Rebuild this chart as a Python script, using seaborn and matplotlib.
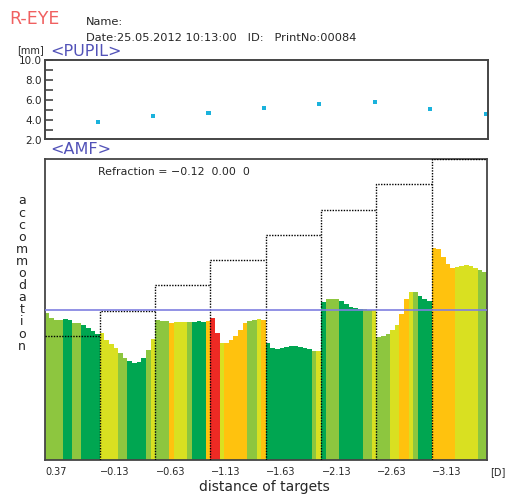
import matplotlib
matplotlib.use("Agg")
import matplotlib.pyplot as plt
import numpy as np
import pandas as pd
import seaborn as sns

# ---------------- data ----------------
target_labels = ["0.37", "\u22120.13", "\u22120.63", "\u22121.13",
                 "\u22121.63", "\u22122.13", "\u22122.63", "\u22123.13"]
pupil_mm = [3.74, 4.35, 4.68, 5.22, 5.56, 5.80, 5.06, 4.55]
stimulus_levels = [2.47, 2.98, 3.49, 4.00, 4.50, 5.00, 5.51, 6.02]
reference_level = 3.0

acc_seg1 = [2.94, 2.84, 2.80, 2.80, 2.82, 2.80, 2.74, 2.74, 2.70, 2.64, 2.58, 2.52]
acc_seg2 = [2.54, 2.40, 2.32, 2.24, 2.14, 2.04, 1.98, 1.94, 1.96, 2.04, 2.20, 2.42]
acc_seg3 = [2.80, 2.78, 2.78, 2.74, 2.76, 2.76, 2.76, 2.76, 2.77, 2.78, 2.77, 2.78]
acc_seg4 = [2.84, 2.54, 2.34, 2.34, 2.40, 2.48, 2.60, 2.74, 2.78, 2.80, 2.82, 2.80]
acc_seg5 = [2.34, 2.24, 2.22, 2.24, 2.26, 2.28, 2.28, 2.26, 2.24, 2.22, 2.18, 2.18]
acc_seg6 = [3.16, 3.22, 3.22, 3.22, 3.18, 3.12, 3.06, 3.04, 3.02, 3.02, 3.00, 3.00]
acc_seg7 = [2.46, 2.48, 2.52, 2.60, 2.70, 2.92, 3.22, 3.36, 3.36, 3.28, 3.22, 3.18]
acc_seg8 = [4.24, 4.22, 4.06, 3.92, 3.84, 3.86, 3.88, 3.90, 3.88, 3.84, 3.80, 3.76]

col_seg1 = ["LG", "LG", "LG", "LG", "DG", "DG", "LG", "LG", "DG", "DG", "DG", "DG"]
col_seg2 = ["LI", "LI", "LI", "LI", "LG", "LG", "DG", "DG", "DG", "DG", "LG", "LI"]
col_seg3 = ["LG", "LG", "LG", "OR", "LI", "LI", "LI", "LG", "DG", "DG", "DG", "OR"]
col_seg4 = ["RD", "RD", "LI", "OR", "OR", "OR", "OR", "OR", "LG", "LG", "LI", "OR"]
col_seg5 = ["DG", "DG", "DG", "DG", "DG", "DG", "DG", "DG", "DG", "DG", "LG", "LI"]
col_seg6 = ["DG", "LG", "LG", "LG", "DG", "DG", "DG", "DG", "DG", "LG", "LG", "LI"]
col_seg7 = ["LG", "LG", "LG", "LI", "LI", "OR", "OR", "LI", "LG", "DG", "DG", "DG"]
col_seg8 = ["OR", "OR", "OR", "OR", "OR", "LI", "LI", "LI", "LI", "LI", "LG", "LG"]

color_map = {"LG": "#8dc63f", "DG": "#00a651", "LI": "#d9e021",
             "OR": "#ffc20e", "RD": "#ee2a24"}

acc_all = (acc_seg1 + acc_seg2 + acc_seg3 + acc_seg4 +
           acc_seg5 + acc_seg6 + acc_seg7 + acc_seg8)
col_all = (col_seg1 + col_seg2 + col_seg3 + col_seg4 +
           col_seg5 + col_seg6 + col_seg7 + col_seg8)
n_seg = len(target_labels)
per_seg = len(acc_seg1)
n_bars = len(acc_all)

df = pd.DataFrame({"pos": np.arange(n_bars), "acc": acc_all})
pal = {i: color_map[c] for i, c in enumerate(col_all)}

# ---------------- figure ----------------
sns.set_style("white")
plt.rcParams["font.family"] = ["DejaVu Sans"]

W, H = 506, 494
fig = plt.figure(figsize=(W / 100, H / 100), dpi=100)

def fx(px):
    return px / W

def fy(py):
    return 1 - py / H

frame_col = "#454545"

# top panel (pupil)
ax_t = fig.add_axes([fx(44.5), fy(139.5), fx(488) - fx(44.5), 79 / H])
pupil_x = [(k + 1) * per_seg - 1 for k in range(n_seg)]
sns.scatterplot(x=pupil_x, y=pupil_mm, marker="s", s=9, color="#1ab2dc",
                edgecolor="none", ax=ax_t)
ax_t.set_xlim(-0.5, n_bars - 0.5)
ax_t.set_ylim(2, 10)
ax_t.set_xticks([])
ax_t.set_yticks([2, 4, 6, 8, 10])
ax_t.set_yticklabels(["2.0", "4.0", "6.0", "8.0", "10.0"])
ax_t.set_yticks([3, 5, 7, 9], minor=True)
ax_t.tick_params(axis="y", which="both", direction="in", length=6, width=1.2,
                 color=frame_col, labelsize=7.5, pad=2, left=True)
for s in ax_t.spines.values():
    s.set_color(frame_col)
    s.set_linewidth(1.4)

# bottom panel (AMF)
ax_b = fig.add_axes([fx(44.5), fy(460), fx(487) - fx(44.5), 301 / H])
sns.barplot(data=df, x="pos", y="acc", hue="pos", palette=pal, width=1.0,
            saturation=1, legend=False, linewidth=0, ax=ax_b)
ax_b.set_xlim(-0.5, n_bars - 0.5)
ax_b.set_ylim(0, 6.02)

# stimulus step line (dotted)
for k, lev in enumerate(stimulus_levels):
    x0 = k * per_seg - 0.5
    x1 = (k + 1) * per_seg - 0.5
    if k == 0:
        xs, ys = [x0, x1], [lev, lev]
    else:
        xs, ys = [x0, x0, x1], [0, lev, lev]
    ax_b.plot(xs, ys, color="black", lw=1.0, ls=(0, (1, 1)), zorder=5)

ax_b.axhline(reference_level, color="#7f7fe0", lw=1.2, zorder=6)
ax_b.set_xticks([])
ax_b.set_yticks([])
ax_b.set_xlabel("")
ax_b.set_ylabel("")
for s in ax_b.spines.values():
    s.set_color(frame_col)
    s.set_linewidth(1.3)

# ---------------- texts ----------------
fig.text(fx(9), fy(19), "R-EYE", color="#f06060", fontsize=12.5, va="center", ha="left")
fig.text(fx(86), fy(22), "Name:", fontsize=8.2, va="center", ha="left")
fig.text(fx(86), fy(38), "Date:25.05.2012 10:13:00   ID:   PrintNo:00084",
         fontsize=8.2, va="center", ha="left")
fig.text(fx(17), fy(50), "[mm]", fontsize=7, va="center", ha="left")
fig.text(fx(50), fy(52), "<PUPIL>", color="#5252b8", fontsize=11.5, va="center", ha="left")
fig.text(fx(50), fy(150), "<AMF>", color="#5252b8", fontsize=11.5, va="center", ha="left")
fig.text(fx(98), fy(172), "Refraction = \u22120.12  0.00  0", fontsize=7.9,
         va="center", ha="left")

ylab = "accommodation"
fig.text(fx(22), fy(273.5), "\n".join(ylab), fontsize=9, va="center", ha="center",
         multialignment="center", linespacing=0.91)

for k, lab in enumerate(target_labels):
    fig.text(fx(45 + k * 55.3), fy(472), lab, fontsize=7, va="center", ha="left")
fig.text(fx(490), fy(472), "[D]", fontsize=7, va="center", ha="left")
fig.text(fx(264), fy(487), "distance of targets", fontsize=10, va="center", ha="center")

fig.savefig("out.png", dpi=100, facecolor="white")
